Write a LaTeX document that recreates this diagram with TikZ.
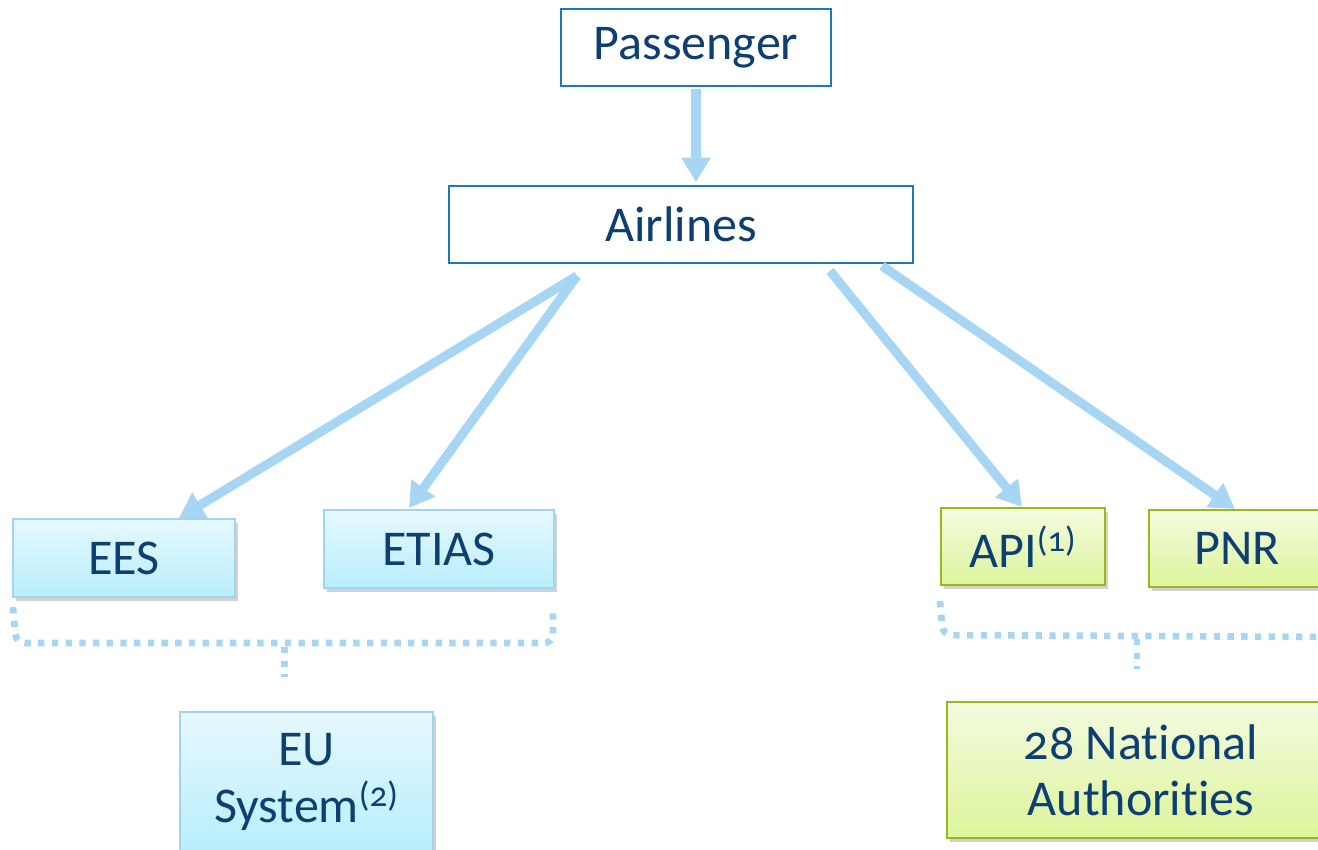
\documentclass[tikz,border=0pt]{standalone}
\usepackage{fontspec}
\setmainfont{Carlito}[Numbers=OldStyle, Ligatures=NoCommon]
\usetikzlibrary{arrows.meta,shadows,calc}
\definecolor{txt}{HTML}{0E3F73}
\definecolor{navyline}{HTML}{1F78BE}
\definecolor{arr}{HTML}{A6D6F3}
\definecolor{bluetop}{HTML}{E6F8FD}
\definecolor{bluebot}{HTML}{B8EEFC}
\definecolor{blueline}{HTML}{A3D3EF}
\definecolor{greentop}{HTML}{F3FBE0}
\definecolor{greenbot}{HTML}{DDF59B}
\definecolor{greenline}{HTML}{99B81A}
\begin{document}
\begin{tikzpicture}[x=0.02cm,y=-0.02cm,
  lbl/.style={font=\fontsize{28.5}{32}\selectfont, text=txt, align=center, inner sep=0pt},
  whitebox/.style={lbl, draw=navyline, line width=1pt, fill=white},
  shad/.style={drop shadow={shadow xshift=1.5pt, shadow yshift=-2.5pt, opacity=0.25, fill=black!70}},
  bluebox/.style={lbl, shad, draw=blueline, line width=1.2pt, top color=bluetop, bottom color=bluebot},
  greenbox/.style={lbl, shad, draw=greenline, line width=1.2pt, top color=greentop, bottom color=greenbot},
  flow/.style={draw=arr, line width=5.2pt, -{Triangle[length=14pt,width=16pt]}},
  dots/.style={draw=arr, line width=3.8pt, dash pattern=on 3.6pt off 4.2pt, rounded corners=5pt}
]
\useasboundingbox (0,0) rectangle (1318,849);

\node[whitebox, minimum width=5.4cm, minimum height=1.54cm] (pass) at (696,47.5) {Passenger};
\node[whitebox, minimum width=9.28cm, minimum height=1.54cm] (air) at (681,224.5) {Airlines};

\node[bluebox, minimum width=4.44cm, minimum height=1.56cm] (ees) at (124,558) {EES};
\node[bluebox, minimum width=4.6cm, minimum height=1.56cm] (etias) at (439,549) {ETIAS};
\node[greenbox, minimum width=3.28cm, minimum height=1.54cm] (api) at (1023,546.5) {API\textsuperscript{(1)}};
\node[greenbox, minimum width=3.52cm, minimum height=1.54cm] (pnr) at (1237,548.5) {PNR};

\node[bluebox, minimum width=5.06cm, minimum height=2.8cm] (eu) at (306.5,782) {EU\\System\textsuperscript{(2)}};
\node[greenbox, minimum width=7.76cm, minimum height=2.72cm] (nat) at (1141,770) {28 National\\Authorities};

% arrows
\draw[flow] ($(pass.south)+(0,2)$) -- ($(air.north)+(15,-3)$);
\coordinate (sl) at ($(air.south)+(-104,12)$);
\coordinate (sa) at ($(air.south)+(149,7)$);
\coordinate (sp) at ($(air.south)+(201,2)$);
\draw[flow] (sl) -- ($(ees.north west)+(167,0)$);
\draw[flow] (sl) -- ($(etias.north west)+(86,-1)$);
\draw[flow] (sa) -- ($(api.north)+(-1,0)$);
\draw[flow] (sp) -- ($(pnr.north)+(-2,0)$);

% dotted brackets
\coordinate (b1) at ($(ees.south west)+(1,9)$);
\coordinate (b2) at ($(ees.south west)+(4,45)$);
\coordinate (b3) at ($(etias.south east)+(-2,54)$);
\coordinate (b4) at ($(etias.south east)+(-2,17)$);
\draw[dots] (b1) -- (b2) -- (b3) -- (b4);
\coordinate (t1) at ($(eu.north)+(-22,-64)$);
\coordinate (t2) at ($(eu.north)+(-22,-34)$);
\draw[dots] (t1) -- (t2);

\coordinate (c1) at ($(api.south west)+(0,15)$);
\coordinate (c2) at ($(api.south west)+(3,49)$);
\coordinate (c3) at ($(pnr.south east)+(20,49)$);
\draw[dots] (c1) -- (c2) -- (c3);
\coordinate (u1) at ($(nat.north)+(-4,-62)$);
\coordinate (u2) at ($(nat.north)+(-4,-32)$);
\draw[dots] (u1) -- (u2);
\end{tikzpicture}
\end{document}
